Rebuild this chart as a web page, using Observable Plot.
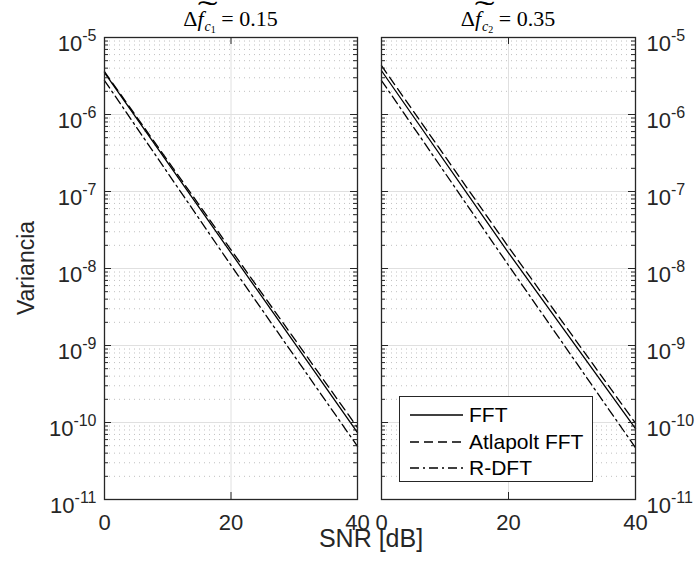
<!DOCTYPE html>
<html><head><meta charset="utf-8">
<script src="https://cdn.jsdelivr.net/npm/d3@7"></script>
<script src="https://cdn.jsdelivr.net/npm/@observablehq/plot@0.6"></script>
<style>
body{margin:0;background:#fff;}
#fig{position:relative;width:696px;height:561px;overflow:hidden;background:#fff;font-family:"Liberation Sans",Arial,sans-serif;color:#262626;}
#fig svg{position:absolute;top:0;}
.ttl{position:absolute;top:7px;font-family:"Liberation Serif","Times New Roman",serif;font-size:22px;line-height:24px;color:#000;white-space:nowrap;transform:translateX(-50%);}
.ttl .tf{position:relative;display:inline-block;padding-right:1px;}
.ttl .tl{position:absolute;left:0px;top:-7px;display:inline-block;transform:scale(2.7,1.2);transform-origin:left center;font-style:normal;}
.ttl .sb{font-size:14px;position:relative;top:5px;}
.ttl .ss{font-size:10px;position:relative;top:2px;font-style:normal;}
.lab{position:absolute;white-space:nowrap;color:#262626;}
#legend{position:absolute;left:399px;top:396px;width:192px;height:84px;border:1px solid #262626;background:#fff;}
#legend .row{position:absolute;left:0;height:26px;width:190px;}
#legend svg{position:absolute;left:10px;top:0;}
#legend span{position:absolute;left:69px;top:0;line-height:26px;font-size:21px;color:#000;}
</style></head><body><div id="fig"></div>
<script>
// ---- data ----
const snr = [0, 20, 40];
const seriesNames = ["FFT", "Atlapolt FFT", "R-DFT"];
const leftFFT = [3.5e-6, 1.6e-8, 7.4e-11];
const leftAtlapolt = [3.6e-6, 1.75e-8, 8.6e-11];
const leftRDFT = [2.76e-6, 1.1e-8, 4.9e-11];
const rightFFT = [3.7e-6, 1.6e-8, 8.3e-11];
const rightAtlapolt = [4.3e-6, 1.9e-8, 9.8e-11];
const rightRDFT = [2.76e-6, 1.1e-8, 4.7e-11];
const yTicks = [1e-11, 1e-10, 1e-9, 1e-8, 1e-7, 1e-6, 1e-5];
const xTicks = [0, 20, 40];
const xMajorGrid = [20];

const minorY = [];
for (let k = -11; k < -5; k++) for (let m = 2; m <= 9; m++) minorY.push(m * Math.pow(10, k));

const dashes = {"FFT": null, "Atlapolt FFT": "9,5", "R-DFT": "9,4,2,4"};

function rows(fft, atl, rdft) {
  const out = [];
  [fft, atl, rdft].forEach((arr, j) => arr.forEach((v, i) => out.push({snr: snr[i], v, s: seriesNames[j]})));
  return out;
}

const fig = document.getElementById("fig");
const H = 561, mT = 37, mB = 62;
const fh = H - mT - mB;

function panel(data, side) {
  const W = side === "left" ? 380 : 336;
  const mL = side === "left" ? 104 : 21;
  const mR = side === "left" ? 23 : 61;
  const fw = W - mL - mR;
  const ink = "#262626";
  const svg = Plot.plot({
    width: W, height: H, marginLeft: mL, marginRight: mR, marginTop: mT, marginBottom: mB,
    style: {background: "transparent", fontFamily: '"Liberation Sans", Arial, sans-serif', fontSize: "22px", color: ink, overflow: "visible"},
    x: {domain: [0, 40]},
    y: {type: "log", domain: [1e-11, 1e-5]},
    marks: [
      Plot.ruleY(minorY, {stroke: "#c0c0c0", strokeDasharray: "1,4", strokeWidth: 1}),
      Plot.ruleY(yTicks, {stroke: "#e0e0e0", strokeWidth: 1}),
      Plot.ruleX(xMajorGrid, {stroke: "#e0e0e0", strokeWidth: 1}),
      ...seriesNames.map(s => Plot.line(data.filter(d => d.s === s), {x: "snr", y: "v", stroke: "#000", strokeWidth: 1.3, strokeDasharray: dashes[s]})),
      Plot.tickY(minorY, {y: d => d, insetRight: fw - 4, stroke: ink}),
      Plot.tickY(minorY, {y: d => d, insetLeft: fw - 4, stroke: ink}),
      Plot.tickY(yTicks, {y: d => d, insetRight: fw - 7, stroke: ink}),
      Plot.tickY(yTicks, {y: d => d, insetLeft: fw - 7, stroke: ink}),
      Plot.tickX(xMajorGrid, {x: d => d, insetTop: fh - 7, stroke: ink}),
      Plot.tickX(xMajorGrid, {x: d => d, insetBottom: fh - 7, stroke: ink}),
      Plot.frame({stroke: ink, strokeWidth: 1.3}),
      Plot.axisY(yTicks, {anchor: side, tickSize: 0, tickPadding: side === "left" ? 8 : 11, label: null,
        tickFormat: d => "10^" + Math.round(Math.log10(d)), fontSize: 22}),
      Plot.axisX(xTicks, {anchor: "bottom", tickSize: 0, tickPadding: 15, label: null, fontSize: 22})
    ]
  });
  d3.select(svg).selectAll('g[aria-label="y-axis tick label"] text').each(function () {
    const [b, e] = this.textContent.split("^");
    this.textContent = "";
    this.setAttribute("y", "13");
    const s = d3.select(this);
    s.append("tspan").text(b);
    s.append("tspan").attr("font-size", "16px").attr("dy", "-10").text(e);
  });
  svg.style.left = (side === "left" ? 0 : 360) + "px";
  fig.appendChild(svg);
}

panel(rows(leftFFT, leftAtlapolt, leftRDFT), "left");
panel(rows(rightFFT, rightAtlapolt, rightRDFT), "right");

// titles
function title(cx, sub, val) {
  const d = document.createElement("div");
  d.className = "ttl";
  d.style.left = cx + "px";
  d.innerHTML = 'Δ<span class="tf"><i>f</i><span class="tl">˜</span></span><span class="sb"><i>c</i><span class="ss">' + sub + '</span></span> = ' + val;
  fig.appendChild(d);
}
title(230.5, "1", "0.15");
title(508, "2", "0.35");

// axis labels
const xl = document.createElement("div");
xl.className = "lab"; xl.textContent = "SNR [dB]";
xl.style.fontSize = "25px";
xl.style.left = "371px"; xl.style.top = "524px"; xl.style.transform = "translateX(-50%)";
fig.appendChild(xl);
const yl = document.createElement("div");
yl.className = "lab"; yl.textContent = "Variancia";
yl.style.fontSize = "23px";
yl.style.left = "26px"; yl.style.top = "268px"; yl.style.transform = "translate(-50%,-50%) rotate(-90deg)";
fig.appendChild(yl);

// legend
const lg = document.createElement("div");
lg.id = "legend";
const rowTops = [5, 32, 58];
seriesNames.forEach((s, i) => {
  const r = document.createElement("div");
  r.className = "row"; r.style.top = rowTops[i] + "px";
  r.innerHTML = '<svg width="54" height="26"><line x1="0" x2="53" y1="13" y2="13" stroke="#000" stroke-width="1.3"' +
    (dashes[s] ? ' stroke-dasharray="' + dashes[s] + '"' : '') + '/></svg><span>' + s + '</span>';
  lg.appendChild(r);
});
fig.appendChild(lg);
</script>
</body></html>
